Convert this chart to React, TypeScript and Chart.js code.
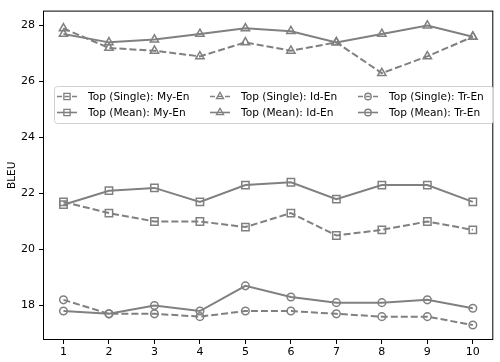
import React, { useEffect, useRef } from 'react';
import { Chart, registerables } from 'chart.js';
Chart.register(...registerables);

const steps = [1, 2, 3, 4, 5, 6, 7, 8, 9, 10];
const singleMyEn = [21.7, 21.3, 21.0, 21.0, 20.8, 21.3, 20.5, 20.7, 21.0, 20.7];
const meanMyEn = [21.6, 22.1, 22.2, 21.7, 22.3, 22.4, 21.8, 22.3, 22.3, 21.7];
const singleIdEn = [27.9, 27.2, 27.1, 26.9, 27.4, 27.1, 27.4, 26.3, 26.9, 27.6];
const meanIdEn = [27.7, 27.4, 27.5, 27.7, 27.9, 27.8, 27.4, 27.7, 28.0, 27.6];
const singleTrEn = [18.2, 17.7, 17.7, 17.6, 17.8, 17.8, 17.7, 17.6, 17.6, 17.3];
const meanTrEn = [17.8, 17.7, 18.0, 17.8, 18.7, 18.3, 18.1, 18.1, 18.2, 17.9];
const yTicks = [18, 20, 22, 24, 26, 28];

const GRAY = '#808080';
const DASH = [7, 3];
const FONT = "'DejaVu Sans', sans-serif";

type Marker = 'rect' | 'triangle' | 'circle';

const series: { label: string; values: number[]; marker: Marker; dashed: boolean; col: number; row: number }[] = [
  { label: 'Top (Single): My-En', values: singleMyEn, marker: 'rect', dashed: true, col: 0, row: 0 },
  { label: 'Top (Mean): My-En', values: meanMyEn, marker: 'rect', dashed: false, col: 0, row: 1 },
  { label: 'Top (Single): Id-En', values: singleIdEn, marker: 'triangle', dashed: true, col: 1, row: 0 },
  { label: 'Top (Mean): Id-En', values: meanIdEn, marker: 'triangle', dashed: false, col: 1, row: 1 },
  { label: 'Top (Single): Tr-En', values: singleTrEn, marker: 'circle', dashed: true, col: 2, row: 0 },
  { label: 'Top (Mean): Tr-En', values: meanTrEn, marker: 'circle', dashed: false, col: 2, row: 1 },
];

const radiusFor = (m: Marker) => (m === 'rect' ? 5.2 : m === 'triangle' ? 4.8 : 3.8);

function drawMarker(ctx: CanvasRenderingContext2D, m: Marker, x: number, y: number, r: number) {
  ctx.beginPath();
  if (m === 'rect') {
    const s = Math.SQRT1_2 * r;
    ctx.rect(x - s, y - s, 2 * s, 2 * s);
  } else if (m === 'circle') {
    ctx.arc(x, y, r, 0, Math.PI * 2);
  } else {
    const h = (r * 3) / 2;
    const w = r * Math.sqrt(3) / 2;
    ctx.moveTo(x, y - r);
    ctx.lineTo(x + w, y + h - r);
    ctx.lineTo(x - w, y + h - r);
    ctx.closePath();
  }
  ctx.stroke();
}

const framePlugin = {
  id: 'frameAndLegend',
  afterDraw(chart: any) {
    const { ctx, chartArea: a } = chart;
    ctx.save();
    ctx.strokeStyle = '#000';
    ctx.lineWidth = 1;
    ctx.strokeRect(a.left + 0.5, a.top + 0.5, a.right - a.left - 1, a.bottom - a.top - 1);

    // legend
    const bx = 54, by = 86, bw = 439, bh = 37;
    ctx.fillStyle = 'rgba(255,255,255,0.8)';
    ctx.strokeStyle = '#d0d0d0';
    ctx.lineWidth = 1;
    ctx.beginPath();
    (ctx as any).roundRect(bx + 0.5, by + 0.5, bw, bh, 3);
    ctx.fill();
    ctx.stroke();

    const colX = [57, 210, 358];
    const rowY = [96.5, 112.5];
    ctx.font = `10.6px ${FONT}`;
    ctx.textBaseline = 'middle';
    ctx.textAlign = 'left';
    series.forEach((s) => {
      const x0 = colX[s.col];
      const y0 = rowY[s.row];
      ctx.strokeStyle = GRAY;
      ctx.lineWidth = 1.6;
      ctx.setLineDash(s.dashed ? [5, 2.5] : []);
      ctx.beginPath();
      ctx.moveTo(x0, y0);
      ctx.lineTo(x0 + 20, y0);
      ctx.stroke();
      ctx.setLineDash([]);
      ctx.lineWidth = 1.3;
      drawMarker(ctx, s.marker, x0 + 10, y0, radiusFor(s.marker) * 0.85);
      ctx.fillStyle = '#000';
      ctx.fillText(s.label, x0 + 31, y0 + 0.5);
    });
    ctx.restore();
  },
};

export default function App() {
  const ref = useRef<HTMLCanvasElement>(null);
  useEffect(() => {
    if (!ref.current) return;
    const chart = new Chart(ref.current, {
      type: 'line',
      data: {
        datasets: series.map((s) => ({
          label: s.label,
          data: s.values.map((v, i) => ({ x: steps[i], y: v })),
          borderColor: GRAY,
          backgroundColor: 'transparent',
          borderWidth: 2,
          borderDash: s.dashed ? DASH : [],
          pointStyle: s.marker,
          pointRadius: radiusFor(s.marker),
          pointBorderColor: GRAY,
          pointBackgroundColor: 'transparent',
          pointBorderWidth: 1.5,
          tension: 0,
          fill: false,
        })),
      },
      options: {
        responsive: false,
        animation: false,
        devicePixelRatio: 1,
        layout: { padding: { top: 2, right: 2, left: 0, bottom: 0 } },
        plugins: { legend: { display: false }, tooltip: { enabled: false } },
        scales: {
          x: {
            type: 'linear',
            min: 0.55,
            max: 10.45,
            afterBuildTicks: (sc: any) => {
              sc.ticks = steps.map((v) => ({ value: v }));
            },
            afterFit: (sc: any) => {
              sc.height = 22;
            },
            grid: { drawOnChartArea: false, drawTicks: true, tickLength: 4, color: '#000', tickColor: '#000' },
            border: { display: false },
            ticks: { color: '#000', font: { family: FONT, size: 11 }, padding: 2, maxRotation: 0, autoSkip: false },
          },
          y: {
            type: 'linear',
            min: 16.765,
            max: 28.535,
            afterBuildTicks: (sc: any) => {
              sc.ticks = yTicks.map((v) => ({ value: v }));
            },
            afterFit: (sc: any) => {
              sc.width = 43;
            },
            grid: { drawOnChartArea: false, drawTicks: true, tickLength: 4, color: '#000', tickColor: '#000' },
            border: { display: false },
            ticks: { color: '#000', font: { family: FONT, size: 11 }, padding: 4, autoSkip: false },
            title: { display: true, text: 'BLEU', color: '#000', font: { family: FONT, size: 10.5 }, padding: { top: 6, bottom: 0 } },
          },
        },
      },
      plugins: [framePlugin],
    } as any);
    return () => chart.destroy();
  }, []);
  return (
    <div style={{ position: 'fixed', left: 0, top: 0, width: 500, height: 362, background: '#fff' }}>
      <canvas ref={ref} width={500} height={362} style={{ display: 'block' }} />
    </div>
  );
}
